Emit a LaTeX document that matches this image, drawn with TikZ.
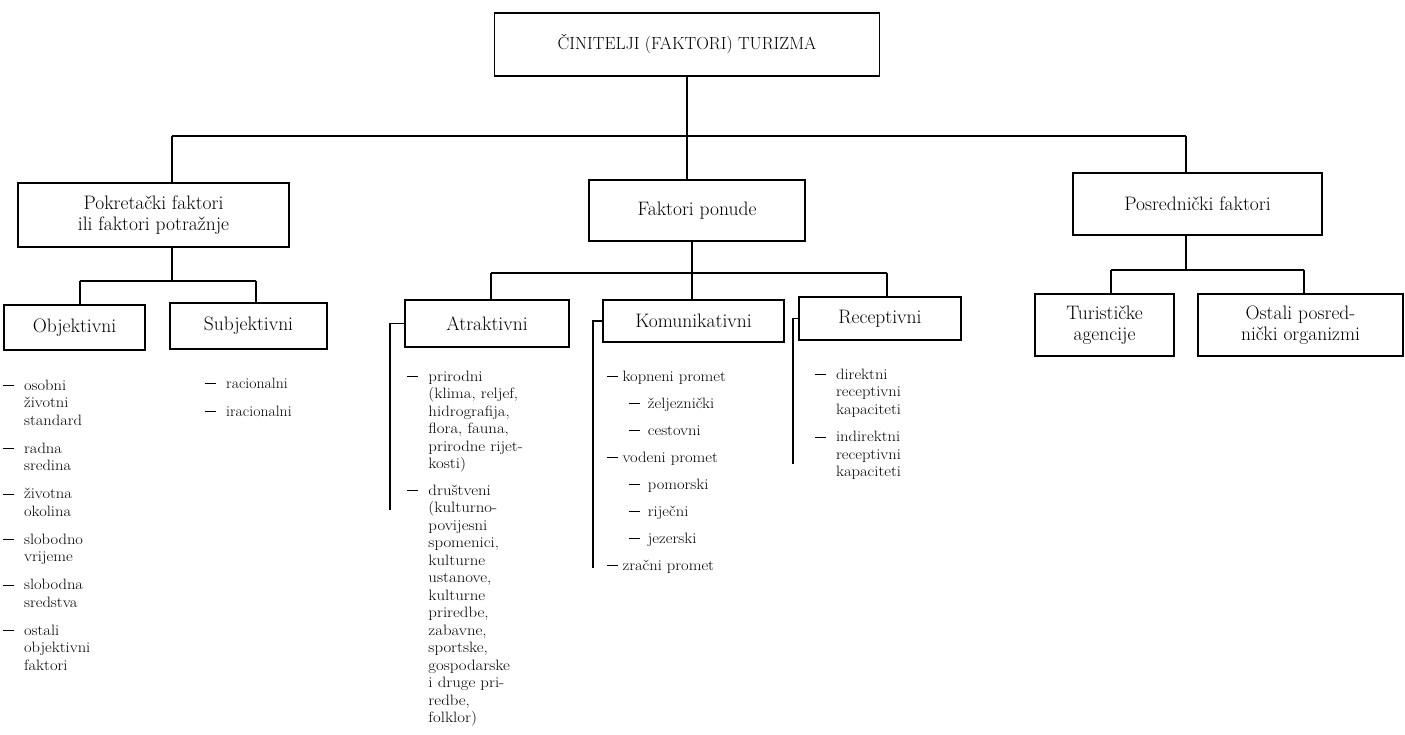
\documentclass[tikz,border=0pt]{standalone}
\usepackage{fontspec}
\usepackage{graphicx}
\newcommand{\dsh}{\rule[4pt]{10pt}{0.8pt}}
\tikzset{
  box/.style={draw, line width=1.3pt, align=center, inner sep=0pt, font=\fontsize{19.5}{21}\selectfont},
  conn/.style={line width=1.3pt},
  lst/.style={anchor=base west, inner sep=0pt, font=\fontsize{15}{17.5}\selectfont},
}
\begin{document}
\begin{tikzpicture}[x=1pt,y=-1pt]
\useasboundingbox (0,0) rectangle (1405,735);
% boxes
\node[box, minimum width=385pt, minimum height=63pt, font=\fontsize{17.5}{20}\selectfont] (top) at (687,44.5) {ČINITELJI (FAKTORI) TURIZMA};
\node[box, minimum width=271pt, minimum height=64pt] (pok) at (153.5,215) {Pokretački faktori\\ili faktori potražnje};
\node[box, minimum width=216pt, minimum height=61pt] (pon) at (697,210.5) {Faktori ponude};
\node[box, minimum width=249pt, minimum height=62pt] (pos) at (1197.5,204) {Posrednički faktori};
\node[box, minimum width=141pt, minimum height=45pt] (obj) at (74.5,327.5) {Objektivni};
\node[box, minimum width=157pt, minimum height=46pt] (sub) at (248.5,326) {Subjektivni};
\node[box, minimum width=164pt, minimum height=47pt] (atr) at (487,323.5) {Atraktivni};
\node[box, minimum width=181pt, minimum height=42pt] (kom) at (693.5,321) {Komunikativni};
\node[box, minimum width=162pt, minimum height=43pt] (rec) at (880,318.5) {Receptivni};
\node[box, minimum width=139pt, minimum height=62pt] (tur) at (1104.5,325) {Turističke\\agencije};
\node[box, minimum width=205pt, minimum height=62pt] (ost) at (1300.5,325) {Ostali posred-\\nički organizmi};
% top level connectors
\coordinate (d1) at (172,136);
\coordinate (d3) at (1186,136);
\draw[conn] (d1) -- (d3);
\draw[conn] (d1) -- (d1 |- pok.north);
\draw[conn] (d3) -- (d3 |- pos.north);
\draw[conn] (top.south) -- (top.south |- pon.north);
% left subtree
\coordinate (e0) at (172,281);
\coordinate (e1) at (80,281);
\coordinate (e2) at (256,281);
\draw[conn] (e0 |- pok.south) -- (e0);
\draw[conn] (e1) -- (e2);
\draw[conn] (e1) -- (e1 |- obj.north);
\draw[conn] (e2) -- (e2 |- sub.north);
% middle subtree
\coordinate (f0) at (692,273);
\coordinate (f1) at (491,273);
\coordinate (f2) at (887,273);
\draw[conn] (f0 |- pon.south) -- (f0);
\draw[conn] (f1) -- (f2);
\draw[conn] (f0) -- (f0 |- kom.north);
\draw[conn] (f1) -- (f1 |- atr.north);
\draw[conn] (f2) -- (f2 |- rec.north);
% right subtree
\coordinate (g0) at (1186,270);
\coordinate (g1) at (1111,270);
\coordinate (g2) at (1304,270);
\draw[conn] (g0 |- pos.south) -- (g0);
\draw[conn] (g1) -- (g2);
\draw[conn] (g1) -- (g1 |- tur.north);
\draw[conn] (g2) -- (g2 |- ost.north);
% brackets
\coordinate (ab) at (390,510);
\coordinate (kb) at (593,568);
\coordinate (rb) at (793,464);
\draw[conn] (atr.west) -| (ab);
\draw[conn] (kom.west) -| (kb);
\draw[conn] (rec.west) -| (rb);
% lists
\node[lst] (objl) at (3,390) {\scalebox{1.1}[1]{\begin{tabular}[t]{@{}l@{\hspace{9pt}}l@{}}
\dsh & osobni\\ & životni\\ & standard\\[10.5pt]
\dsh & radna\\ & sredina\\[10.5pt]
\dsh & životna\\ & okolina\\[10.5pt]
\dsh & slobodno\\ & vrijeme\\[10.5pt]
\dsh & slobodna\\ & sredstva\\[10.5pt]
\dsh & ostali\\ & objektivni\\ & faktori
\end{tabular}}};
\node[lst] (subl) at (205,388) {\scalebox{1.05}[1]{\begin{tabular}[t]{@{}l@{\hspace{10pt}}l@{}}
\dsh & racionalni\\[10.5pt]
\dsh & iracionalni
\end{tabular}}};
\node[lst] (atrl) at (407,381) {\scalebox{1.12}[1]{\begin{tabular}[t]{@{}l@{\hspace{9pt}}l@{}}
\dsh & prirodni\\ & (klima, reljef,\\ & hidrografija,\\ & flora, fauna,\\ & prirodne rijet-\\ & kosti)\\[9pt]
\dsh & društveni\\ & (kulturno-\\ & povijesni\\ & spomenici,\\ & kulturne\\ & ustanove,\\ & kulturne\\ & priredbe,\\ & zabavne,\\ & sportske,\\ & gospodarske\\ & i druge pri-\\ & redbe,\\ & folklor)
\end{tabular}}};
\node[lst] (koml) at (607,381) {\scalebox{1.1}[1]{\begin{tabular}[t]{@{}l@{}}
\dsh\hspace{4pt}kopneni promet\\[9.5pt]
\hspace{20pt}\dsh\hspace{7pt}željeznički\\[9.5pt]
\hspace{20pt}\dsh\hspace{7pt}cestovni\\[9.5pt]
\dsh\hspace{4pt}vodeni promet\\[9.5pt]
\hspace{20pt}\dsh\hspace{7pt}pomorski\\[9.5pt]
\hspace{20pt}\dsh\hspace{7pt}riječni\\[9.5pt]
\hspace{20pt}\dsh\hspace{7pt}jezerski\\[9.5pt]
\dsh\hspace{4pt}zračni promet
\end{tabular}}};
\node[lst] (recl) at (815,379) {\scalebox{1.1}[1]{\begin{tabular}[t]{@{}l@{\hspace{9pt}}l@{}}
\dsh & direktni\\ & receptivni\\ & kapaciteti\\[10pt]
\dsh & indirektni\\ & receptivni\\ & kapaciteti
\end{tabular}}};
\end{tikzpicture}
\end{document}
